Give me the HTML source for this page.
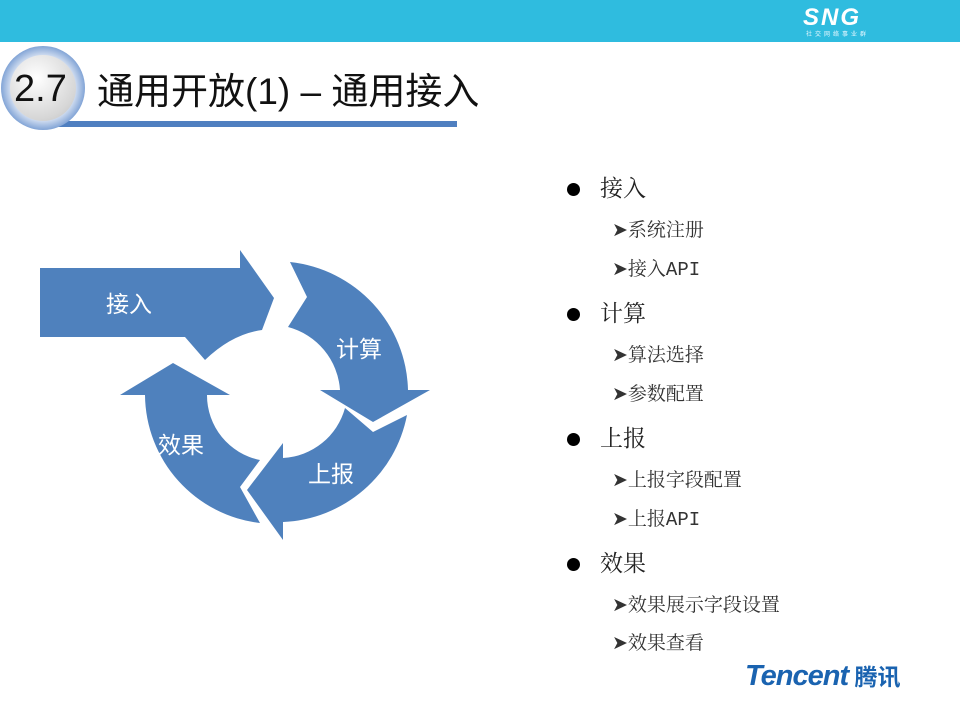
<!DOCTYPE html>
<html><head><meta charset="utf-8"><style>
body{margin:0;width:960px;height:720px;background:#fff;position:relative;overflow:hidden;font-family:"Liberation Sans","Noto Sans CJK SC",sans-serif}
.a{position:absolute;white-space:nowrap;line-height:1}
.m{font-size:23px;color:#222;font-family:"Liberation Serif","Noto Serif CJK SC",serif}
.b{position:absolute;width:13px;height:13px;border-radius:50%;background:#000}
.s{font-size:19px;color:#333;font-family:"Liberation Mono","Noto Serif CJK SC",serif}
</style></head><body>
<div style="position:absolute;left:0;top:0;width:960px;height:42px;background:#2fbcdf"></div>
<div class="a" style="left:803px;top:6px;font-size:24px;font-weight:bold;color:#fff;letter-spacing:2px;font-style:italic">SNG</div>
<div class="a" style="left:806px;top:32px;font-size:6px;color:#e8f8ff;letter-spacing:3px">社交网络事业群</div>
<div style="position:absolute;left:57px;top:121px;width:400px;height:6px;background:#4f7fc0"></div>
<div style="position:absolute;left:1px;top:46px;width:84px;height:84px;border-radius:50%;background:radial-gradient(circle,#cfdcf0 55%,#6d95cf 75%,#b9cde9 100%)"></div>
<div style="position:absolute;left:10px;top:55px;width:66px;height:66px;border-radius:50%;background:radial-gradient(circle at 40% 35%,#fff,#d6d6d6 70%,#bbb)"></div>
<div class="a" style="left:14px;top:70px;font-size:38px;color:#111">2.7</div>
<div class="a" style="left:97px;top:73px;font-size:37px;color:#111">通用开放(1) – 通用接入</div>
<svg width="960" height="720" style="position:absolute;left:0;top:0">
<g fill="#4f81bd">
<path d="M40,268 L240,268 L240,250 L274,298 L262,330 Q232,334 205,360 L185,337 L40,337 Z"/>
<path d="M290,262 A132,132 0 0 1 408,390 L430,390 L373,422 L320,390 L340,390 A70,70 0 0 0 288,327 L307,297 Z"/>
<path d="M407,415 A132,132 0 0 1 283,522 L283,540 L247,490 L283,443 L283,458 A68,68 0 0 0 345,408 L373,432 Z"/>
<path d="M260,523 A130,130 0 0 1 145,395 L120,395 L173,363 L230,395 L207,395 A66,66 0 0 0 260,460 L240,487 Z"/>
</g>
<g fill="#fff" font-size="23" font-family="Liberation Sans,Noto Sans CJK SC,sans-serif">
<text x="106" y="312">接入</text>
<text x="336" y="357">计算</text>
<text x="308" y="482">上报</text>
<text x="158" y="453">效果</text>
</g>
</svg>
<div class="b" style="left:567px;top:183px"></div><div class="a m" style="left:600px;top:177px">接入</div>
<div class="a s" style="left:612px;top:222px">➤系统注册</div>
<div class="a s" style="left:612px;top:261px">➤接入API</div>
<div class="b" style="left:567px;top:308px"></div><div class="a m" style="left:600px;top:302px">计算</div>
<div class="a s" style="left:612px;top:347px">➤算法选择</div>
<div class="a s" style="left:612px;top:386px">➤参数配置</div>
<div class="b" style="left:567px;top:433px"></div><div class="a m" style="left:600px;top:427px">上报</div>
<div class="a s" style="left:612px;top:472px">➤上报字段配置</div>
<div class="a s" style="left:612px;top:511px">➤上报API</div>
<div class="b" style="left:567px;top:558px"></div><div class="a m" style="left:600px;top:552px">效果</div>
<div class="a s" style="left:612px;top:597px">➤效果展示字段设置</div>
<div class="a s" style="left:612px;top:635px">➤效果查看</div>
<div class="a" style="left:745px;top:662px;font-size:29px;font-weight:bold;font-style:italic;color:#1a63b0;letter-spacing:-1px">Tencent<span style="font-size:23px;font-style:normal;letter-spacing:0"> 腾讯</span></div>
</body></html>
